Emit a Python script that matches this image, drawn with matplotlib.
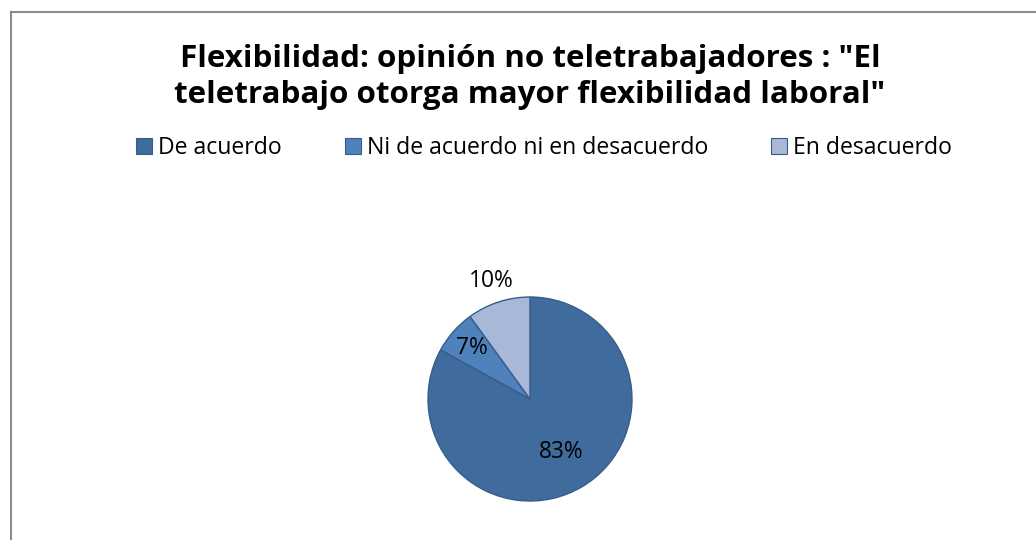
import numpy as np
import matplotlib.pyplot as plt
from matplotlib.patches import Patch
from matplotlib.lines import Line2D

# datos del grafico
categorias = ['De acuerdo', 'Ni de acuerdo ni en desacuerdo', 'En desacuerdo']
porcentajes = [83, 7, 10]
colores = ['#3F6B9D', '#4F81BD', '#A7B8D8']
titulo = ['Flexibilidad: opinión no teletrabajadores : "El',
          'teletrabajo otorga mayor flexibilidad laboral"']

plt.rcParams['font.family'] = ['Open Sans', 'DejaVu Sans']

fig = plt.figure(figsize=(10.36, 5.40), dpi=100)
W, H = 1036, 540
renderer = fig.canvas.get_renderer()


def ancho(texto, size, **kw):
    t = fig.text(0, 0, texto, fontsize=size, **kw)
    w = t.get_window_extent(renderer).width
    t.remove()
    return w


def ajustar(texto, px, **kw):
    # tamaño de letra para que el texto ocupe px pixeles
    return 10 * px / ancho(texto, 10, **kw)


# marco del grafico (solo lado izquierdo y superior visibles)
fig.add_artist(Line2D([11 / W, 11 / W], [0, 1 - 12 / H], color='#8C8C8C', lw=1.5, transform=fig.transFigure))
fig.add_artist(Line2D([11 / W, 1], [1 - 12 / H, 1 - 12 / H], color='#8C8C8C', lw=1.5, transform=fig.transFigure))

# titulo
ts = ajustar(titulo[0], 704, fontweight='bold')
for linea, yb in zip(titulo, [67, 103]):
    fig.text(530 / W, 1 - yb / H, linea, ha='center', va='baseline', fontsize=ts,
             fontweight='bold')

# pie: centro (530, 399), radio ~102 px
r = 102
ax = fig.add_axes([(530 - r) / W, 1 - (399 + r) / H, 2 * r / W, 2 * r / H])
wedges, _ = ax.pie(porcentajes, colors=colores, startangle=90, counterclock=False,
                   wedgeprops=dict(edgecolor='#385D8A', linewidth=1))
ax.set_xlim(-1, 1)
ax.set_ylim(-1, 1)
ax.set_aspect('equal')

# etiquetas
ls = ajustar('83%', 45)
dist = [0.6, 0.76, 1.22]
tot = sum(porcentajes)
acc = 0
for p, d in zip(porcentajes, dist):
    mid = 90 - (acc + p / 2) / tot * 360
    acc += p
    ang = np.deg2rad(mid)
    ax.text(d * np.cos(ang), d * np.sin(ang), f'{p}%', ha='center', va='center',
            fontsize=ls, clip_on=False)

# leyenda
gs = ajustar(categorias[1], 341)
em = gs * 100 / 72
w0 = ancho(categorias[0], gs)
x0 = 282 - w0 - 6 - 16
handles = [Patch(facecolor=c, edgecolor='#385D8A', lw=0.8) for c in colores]
fig.legend(handles, categorias, loc='center left', bbox_to_anchor=(x0 / W, 1 - 148 / H),
           ncol=3, frameon=False, fontsize=gs, handlelength=16 / em, handleheight=16 / em,
           handletextpad=6 / em, columnspacing=63 / em, borderpad=0, borderaxespad=0)

fig.savefig('out.png', dpi=100)
